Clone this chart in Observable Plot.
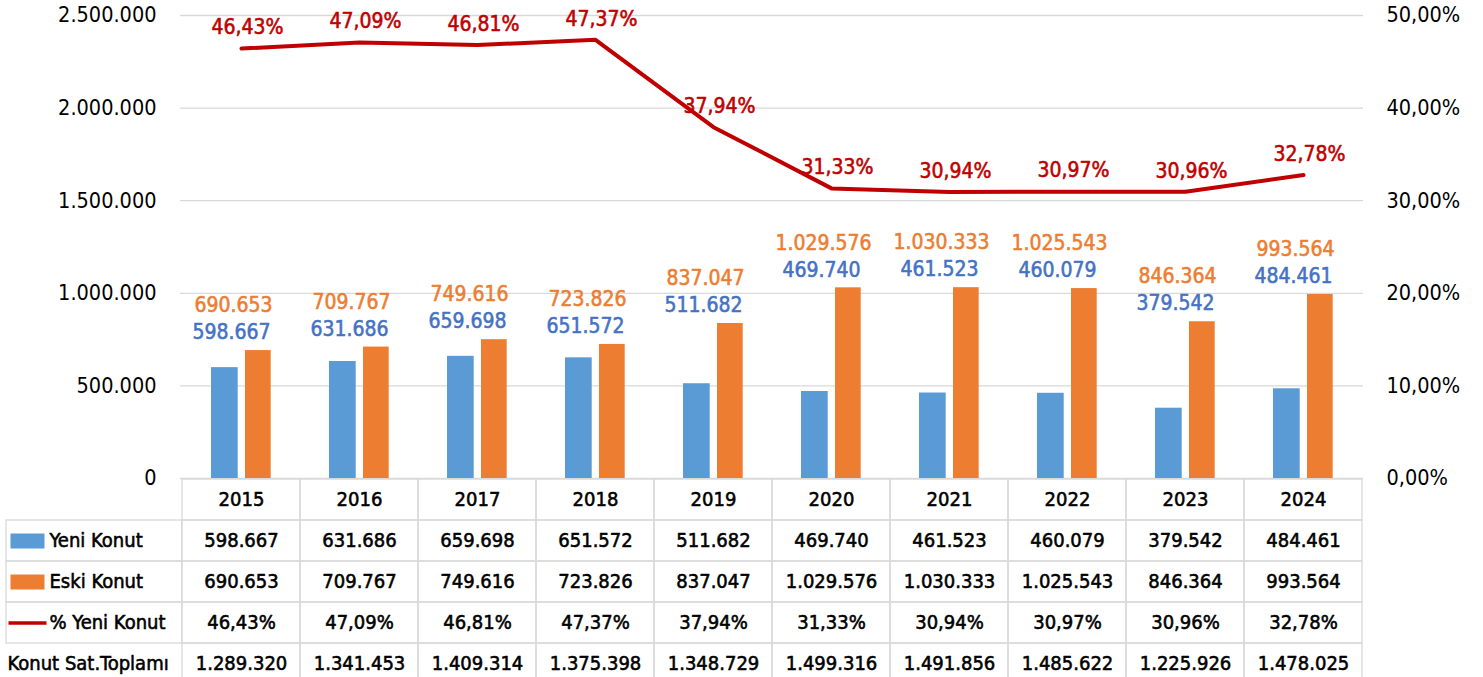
<!DOCTYPE html>
<html>
<head>
<meta charset="utf-8">
<script src="https://cdn.jsdelivr.net/npm/d3@7"></script>
<script src="https://cdn.jsdelivr.net/npm/@observablehq/plot@0.6"></script>
<style>
  html, body { margin: 0; padding: 0; background: #ffffff; }
  #chart svg { display: block; }
</style>
</head>
<body>
<div id="chart"></div>
<script>
// ---- data ----
const years = [2015, 2016, 2017, 2018, 2019, 2020, 2021, 2022, 2023, 2024];
const yeniKonut = [598667, 631686, 659698, 651572, 511682, 469740, 461523, 460079, 379542, 484461];
const eskiKonut = [690653, 709767, 749616, 723826, 837047, 1029576, 1030333, 1025543, 846364, 993564];
const yeniPct = [46.43, 47.09, 46.81, 47.37, 37.94, 31.33, 30.94, 30.97, 30.96, 32.78];
const toplam = [1289320, 1341453, 1409314, 1375398, 1348729, 1499316, 1491856, 1485622, 1225926, 1478025];
const leftTicks = [0, 500000, 1000000, 1500000, 2000000, 2500000];
const pctMax = 50;          // right axis top (%), aligned with leftTicks' max
const rowLabels = ["Yeni Konut", "Eski Konut", "% Yeni Konut", "Konut Sat.Toplamı"];

// ---- formatting ----
const loc = d3.formatLocale({decimal: ",", thousands: ".", grouping: [3], currency: ["", ""]});
const fmtInt = loc.format(",d");
const fmtPct = v => loc.format(".2f")(v) + "%";
const scaleMax = leftTicks[leftTicks.length - 1];
const pctToY = p => p / pctMax * scaleMax;

const data = years.map((year, i) => ({
  year, yeni: yeniKonut[i], eski: eskiKonut[i], pct: yeniPct[i], top: toplam[i]
}));

const FONT = "'Liberation Sans Narrow', 'DejaVu Sans Condensed', 'Roboto Condensed', Lato, sans-serif";
const FS_AXIS = 21.5, FS_LABEL = 21, FS_TABLE = 20;
const BLUE = "#5B9BD5", ORANGE = "#ED7D31", RED = "#C00000";
const BLUE_T = "#4472C4", GRID = "#d9d9d9";
const BOLD = 0.55; // faux-bold stroke width

const W = 1483, ML = 180, MR = 120;
const colW = (W - ML - MR) / years.length;

const txt = (fill, fs) => ({fill, stroke: fill, strokeWidth: BOLD, fontSize: fs, fontFamily: FONT});

const main = Plot.plot({
  width: W, height: 478,
  marginLeft: ML, marginRight: MR, marginTop: 15, marginBottom: 0,
  style: {background: "transparent", overflow: "visible", fontFamily: FONT, fontSize: FS_AXIS + "px", color: "#000"},
  x: {type: "band", domain: years, padding: 0, axis: null},
  y: {domain: [0, scaleMax], axis: null},
  marks: [
    Plot.ruleY(leftTicks, {stroke: GRID, strokeWidth: 1.3}),
    Plot.barY(data, {x: "year", y: "yeni", fill: BLUE, insetLeft: 29, insetRight: colW - 56}),
    Plot.barY(data, {x: "year", y: "eski", fill: ORANGE, insetLeft: 63, insetRight: colW - 89}),
    Plot.line(data, {x: "year", y: d => pctToY(d.pct), stroke: RED, strokeWidth: 4, strokeLinejoin: "round", strokeLinecap: "round"}),
    Plot.text(data, {x: "year", y: "eski", text: d => fmtInt(d.eski), dx: -8, dy: -45, ...txt(ORANGE, FS_LABEL)}),
    Plot.text(data, {x: "year", y: "eski", text: d => fmtInt(d.yeni), dx: -10, dy: -18, ...txt(BLUE_T, FS_LABEL)}),
    Plot.text(data, {x: "year", y: d => pctToY(d.pct), text: d => fmtPct(d.pct), dx: 6, dy: -21, ...txt(RED, FS_LABEL)}),
    Plot.axisY(leftTicks, {anchor: "left", tickSize: 0, tickPadding: 24, tickFormat: fmtInt, fontSize: FS_AXIS, stroke: "#000", strokeWidth: BOLD}),
    Plot.axisY(leftTicks, {anchor: "right", tickSize: 0, tickPadding: 23, tickFormat: d => fmtPct(d / scaleMax * pctMax), fontSize: FS_AXIS, stroke: "#000", strokeWidth: BOLD})
  ]
});

// ---- data table below the chart ----
const rowKeys = ["year", ...rowLabels];
const cells = [];
data.forEach(d => {
  cells.push({year: d.year, row: "year", text: String(d.year)});
  cells.push({year: d.year, row: rowLabels[0], text: fmtInt(d.yeni)});
  cells.push({year: d.year, row: rowLabels[1], text: fmtInt(d.eski)});
  cells.push({year: d.year, row: rowLabels[2], text: fmtPct(d.pct)});
  cells.push({year: d.year, row: rowLabels[3], text: fmtInt(d.top)});
});
const swatches = [
  {row: rowLabels[0], color: BLUE, kind: "bar"},
  {row: rowLabels[1], color: ORANGE, kind: "bar"},
  {row: rowLabels[2], color: RED, kind: "line"}
];
const barSym = {draw(ctx) { ctx.rect(-17, -7.5, 34, 15); }};
const lineSym = {draw(ctx) { ctx.rect(-19, -1.75, 38, 3.5); }};

const table = Plot.plot({
  width: W, height: 206,
  marginLeft: ML, marginRight: MR, marginTop: 0, marginBottom: 0,
  style: {background: "transparent", overflow: "visible", fontFamily: FONT, fontSize: FS_TABLE + "px", color: "#000"},
  x: {type: "band", domain: years, padding: 0, axis: null},
  y: {type: "band", domain: rowKeys, padding: 0, axis: null},
  marks: [
    Plot.cell(cells, {x: "year", y: "row", fill: "none", stroke: GRID, strokeWidth: 1.3}),
    Plot.cell(rowLabels.slice(0, 3), {x: () => years[0], y: d => d, fill: "none", stroke: GRID, strokeWidth: 1.3, insetLeft: -176, insetRight: colW}),
    Plot.text(cells, {x: "year", y: "row", text: "text", ...txt("#000", FS_TABLE)}),
    Plot.text(rowLabels.slice(0, 3), {y: d => d, text: d => d, frameAnchor: "left", textAnchor: "start", dx: 49 - ML, ...txt("#000", FS_TABLE)}),
    Plot.text(rowLabels.slice(3), {y: d => d, text: d => d, frameAnchor: "left", textAnchor: "start", dx: 7 - ML, ...txt("#000", FS_TABLE)}),
    Plot.dot(swatches.filter(s => s.kind === "bar"), {y: "row", frameAnchor: "left", dx: 27 - ML, symbol: barSym, fill: "color", stroke: "none"}),
    Plot.dot(swatches.filter(s => s.kind === "line"), {y: "row", frameAnchor: "left", dx: 27 - ML, symbol: lineSym, fill: "color", stroke: "none"})
  ]
});

const el = document.getElementById("chart");
el.appendChild(main);
el.appendChild(table);
</script>
</body>
</html>
